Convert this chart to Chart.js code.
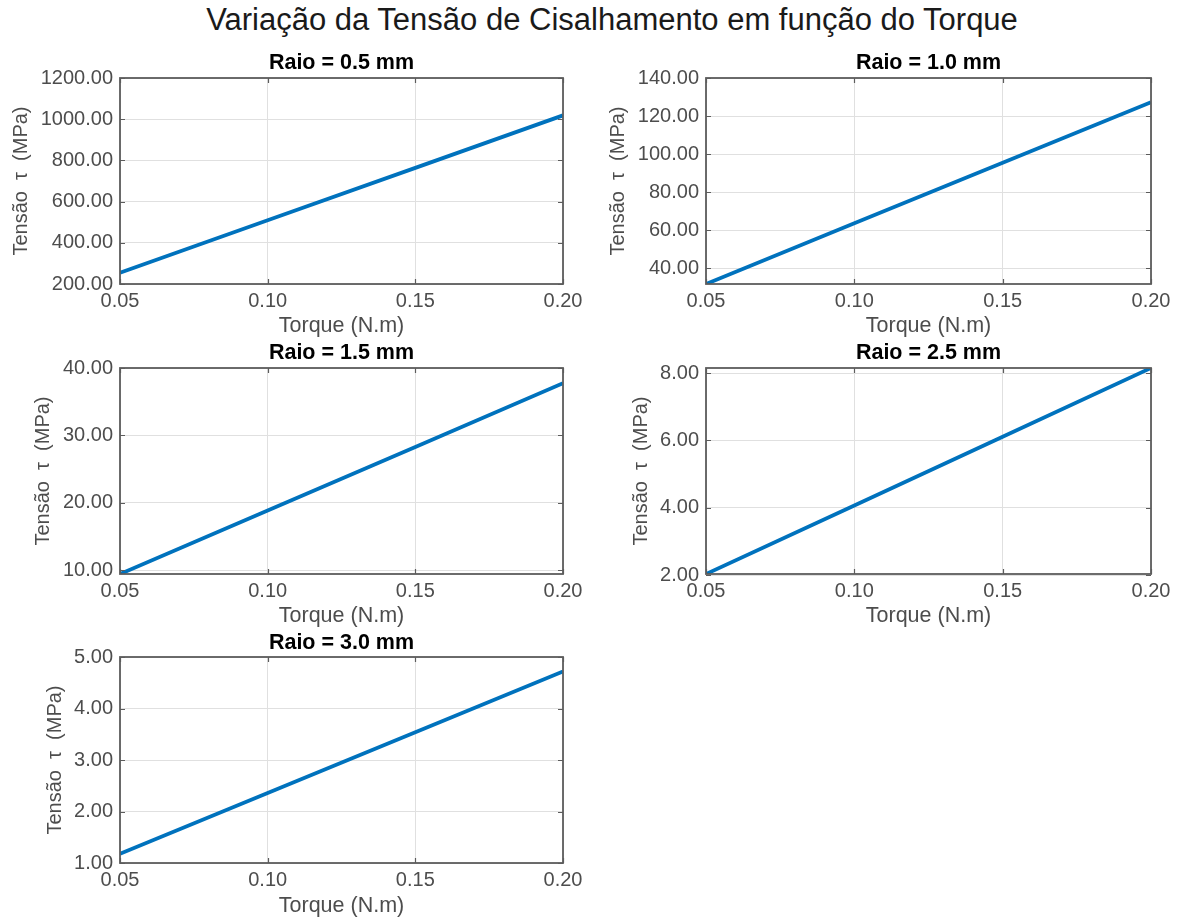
<!DOCTYPE html>
<html>
<head>
<meta charset="utf-8">
<title>Tensão de Cisalhamento x Torque</title>
<script src="https://cdn.jsdelivr.net/npm/chart.js@4.4.1/dist/chart.umd.min.js"></script>
<style>
  html, body { margin: 0; padding: 0; background: #fff; overflow: hidden; }
  #fig { position: relative; width: 1182px; height: 920px; overflow: hidden; background: #fff; }
  #suptitle {
    position: absolute; left: 12px; top: 2px; width: 1200px; text-align: center;
    font-family: 'Liberation Sans', Arial, sans-serif; font-size: 31px; line-height: 36px; color: #1a1a1a;
  }
  #fig canvas { position: absolute; }
</style>
</head>
<body>
<div id="fig">
  <div id="suptitle">Variação da Tensão de Cisalhamento em função do Torque</div>
</div>
<script>
// Torque values (N.m) and shear stress (MPa) for each shaft radius
const torque = [0.05, 0.10, 0.15, 0.20];
const radii = ['0.5', '1.0', '1.5', '2.5', '3.0'];
const tauR05 = [254.6, 509.3, 763.9, 1018.6];
const tauR10 = [31.8, 63.7, 95.5, 127.3];
const tauR15 = [9.43, 18.86, 28.29, 37.73];
const tauR25 = [2.04, 4.07, 6.11, 8.15];
const tauR30 = [1.18, 2.36, 3.54, 4.72];

// Tick values
const xTicks = [0.05, 0.10, 0.15, 0.20];
const yTicksR05 = [200, 400, 600, 800, 1000, 1200];
const yTicksR10 = [40, 60, 80, 100, 120, 140];
const yTicksR15 = [10, 20, 30, 40];
const yTicksR25 = [2, 4, 6, 8];
const yTicksR30 = [1, 2, 3, 4, 5];

// Axis limits
const xLimits = [0.05, 0.20];
const yLimits = [[200, 1200], [31.8, 140], [9.43, 40], [2.04, 8.15], [1, 5]];

const seriesList = [tauR05, tauR10, tauR15, tauR25, tauR30];
const yTickList = [yTicksR05, yTicksR10, yTicksR15, yTicksR25, yTicksR30];

// Placement of each subplot on the figure
const panelBoxes = [
  { left: 0,   top: 40,  w: 590, h: 300, yW: 120, padR: 27, yTitlePad: 9,  areaTop: 38, xH: 56 },
  { left: 590, top: 40,  w: 592, h: 300, yW: 116, padR: 31, yTitlePad: 16, areaTop: 38, xH: 56 },
  { left: 0,   top: 330, w: 590, h: 300, yW: 120, padR: 27, yTitlePad: 31, areaTop: 38, xH: 56 },
  { left: 590, top: 330, w: 592, h: 300, yW: 116, padR: 31, yTitlePad: 39, areaTop: 38, xH: 56 },
  { left: 0,   top: 620, w: 590, h: 300, yW: 120, padR: 27, yTitlePad: 43, areaTop: 37, xH: 57 }
];

const FONT = "'Liberation Sans', Arial, sans-serif";
const AXIS_TEXT = '#4d4d4d';
const GRID = '#e0e0e0';
const BOX = '#5c5c5c';
const LINE_BLUE = '#0072BD';
const TITLE_SIZE = 21.5;
const TITLE_TOP = 10;

// Centre each subplot title over its plot area rather than the whole canvas
const centerTitle = {
  id: 'centerTitle',
  afterLayout(chart) {
    const tb = chart.titleBlock;
    if (tb) {
      tb.left = chart.chartArea.left;
      tb.right = chart.chartArea.right;
      tb.width = tb.right - tb.left;
    }
  }
};

// Full box around the plot area with inward tick marks on all sides
const axesBox = {
  id: 'axesBox',
  afterDatasetsDraw(chart) {
    const { ctx, chartArea: a, scales: { x, y } } = chart;
    const tl = 5;
    ctx.save();
    ctx.strokeStyle = BOX;
    ctx.lineWidth = 1.2;
    ctx.beginPath();
    x.ticks.forEach(t => {
      const px = Math.round(x.getPixelForValue(t.value)) + 0.5;
      ctx.moveTo(px, a.bottom); ctx.lineTo(px, a.bottom - tl);
      ctx.moveTo(px, a.top); ctx.lineTo(px, a.top + tl);
    });
    y.ticks.forEach(t => {
      const py = Math.round(y.getPixelForValue(t.value)) + 0.5;
      ctx.moveTo(a.left, py); ctx.lineTo(a.left + tl, py);
      ctx.moveTo(a.right, py); ctx.lineTo(a.right - tl, py);
    });
    ctx.stroke();
    ctx.lineWidth = 1.8;
    ctx.strokeRect(a.left, a.top, a.right - a.left, a.bottom - a.top);
    ctx.restore();
  }
};

const fig = document.getElementById('fig');

seriesList.forEach((series, i) => {
  const box = panelBoxes[i];
  const canvas = document.createElement('canvas');
  canvas.width = box.w;
  canvas.height = box.h;
  canvas.style.left = box.left + 'px';
  canvas.style.top = box.top + 'px';
  canvas.style.width = box.w + 'px';
  canvas.style.height = box.h + 'px';
  fig.appendChild(canvas);

  const yTicks = yTickList[i];

  new Chart(canvas, {
    type: 'line',
    data: {
      datasets: [{
        data: torque.map((t, k) => ({ x: t, y: series[k] })),
        borderColor: LINE_BLUE,
        borderWidth: 3.8,
        pointRadius: 0,
        tension: 0,
        fill: false
      }]
    },
    options: {
      responsive: false,
      animation: false,
      events: [],
      layout: { padding: { left: 0, top: 0, right: box.padR, bottom: 0 } },
      plugins: {
        legend: { display: false },
        tooltip: { enabled: false },
        title: {
          display: true,
          text: 'Raio = ' + radii[i] + ' mm',
          color: '#000',
          font: { family: FONT, size: TITLE_SIZE, weight: 'bold', lineHeight: 1.2 },
          padding: { top: TITLE_TOP, bottom: box.areaTop - TITLE_SIZE * 1.2 - TITLE_TOP }
        }
      },
      scales: {
        x: {
          type: 'linear',
          min: xLimits[0],
          max: xLimits[1],
          afterBuildTicks: s => { s.ticks = xTicks.map(v => ({ value: v })); },
          afterFit: s => { s.height = box.xH; },
          ticks: {
            autoSkip: false, maxRotation: 0, padding: 5,
            color: AXIS_TEXT, font: { family: FONT, size: 20 },
            callback: v => Number(v).toFixed(2)
          },
          grid: { color: GRID, lineWidth: 1, drawTicks: false },
          border: { display: false },
          title: {
            display: true, text: 'Torque (N.m)', color: AXIS_TEXT,
            font: { family: FONT, size: 21.5, lineHeight: 1.2 },
            padding: { top: 0, bottom: 1 }
          }
        },
        y: {
          type: 'linear',
          min: yLimits[i][0],
          max: yLimits[i][1],
          afterBuildTicks: s => { s.ticks = yTicks.map(v => ({ value: v })); },
          afterFit: s => { s.width = box.yW; },
          ticks: {
            autoSkip: false, padding: 7,
            color: AXIS_TEXT, font: { family: FONT, size: 20 },
            callback: v => Number(v).toFixed(2)
          },
          grid: { color: GRID, lineWidth: 1, drawTicks: false },
          border: { display: false },
          title: {
            display: true, text: 'Tensão  τ  (MPa)', color: AXIS_TEXT,
            font: { family: FONT, size: 20, lineHeight: 1.2 },
            padding: { top: box.yTitlePad, bottom: 0 }
          }
        }
      }
    },
    plugins: [centerTitle, axesBox]
  });
});
</script>
</body>
</html>
